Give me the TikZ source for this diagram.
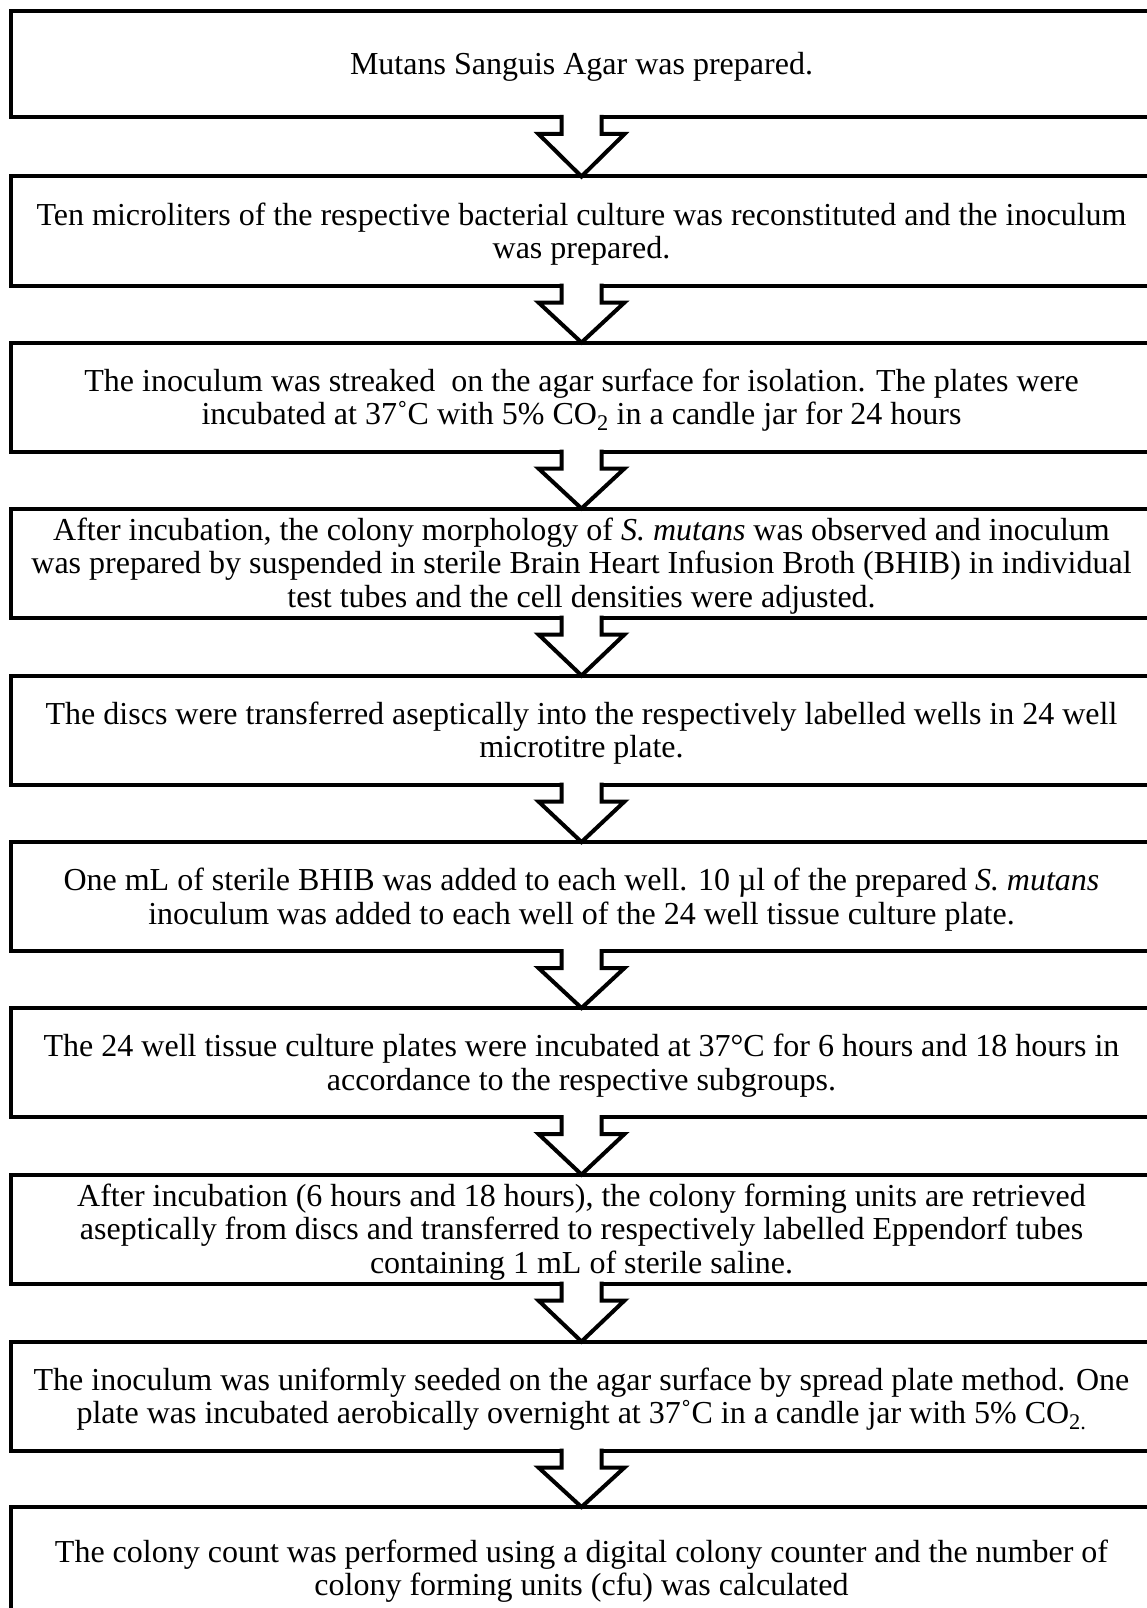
\documentclass[tikz,border=0pt]{standalone}
\usepackage{fontspec}
\setmainfont{Liberation Serif}
\usetikzlibrary{calc}
\newcommand{\tp}{\rule{0pt}{28.5pt}}
\begin{document}
\begin{tikzpicture}[x=1pt,y=-1pt,
  box/.style={draw, line width=4pt, rectangle, minimum width=1141pt,
    minimum height=109pt, inner sep=0pt, outer sep=0pt, align=center,
    font=\fontsize{32}{33.6}\selectfont},
  arr/.style={line width=4pt, line join=miter}]
\useasboundingbox (0,0) rectangle (1147,1608);
\clip (0,0) rectangle (1147,1608);
\node[box, minimum height=106pt] (b1) at (581.5,64) {\tp Mutans Sanguis Agar was prepared.};
\node[box] (b2) at (581.5,231) {\tp Ten microliters of the respective bacterial culture was reconstituted and the inoculum\\was prepared.};
\node[box] (b3) at (581.5,397) {\tp The inoculum was streaked\ \ on the agar surface for isolation. The plates were\\incubated at 37˚C with 5\% CO\textsubscript{2} in a candle jar for 24 hours};
\node[box] (b4) at (581.5,563) {\tp After incubation, the colony morphology of \textit{S. mutans} was observed and inoculum\\was prepared by suspended in sterile Brain Heart Infusion Broth (BHIB) in individual\\test tubes and the cell densities were adjusted.};
\node[box] (b5) at (581.5,730) {\tp The discs were transferred aseptically into the respectively labelled wells in 24 well\\microtitre plate.};
\node[box] (b6) at (581.5,896.5) {\tp One mL of sterile BHIB was added to each well. 10 µl of the prepared \textit{S. mutans}\\inoculum was added to each well of the 24 well tissue culture plate.};
\node[box] (b7) at (581.5,1062.5) {\tp The 24 well tissue culture plates were incubated at 37°C for 6 hours and 18 hours in\\accordance to the respective subgroups.};
\node[box] (b8) at (581.5,1229) {\tp After incubation (6 hours and 18 hours), the colony forming units are retrieved\\aseptically from discs and transferred to respectively labelled Eppendorf tubes\\containing 1 mL of sterile saline.};
\node[box] (b9) at (581.5,1396) {\tp The inoculum was uniformly seeded on the agar surface by spread plate method. One\\plate was incubated aerobically overnight at 37˚C in a candle jar with 5\% CO\textsubscript{2.}};
\node[box, minimum height=122pt] (b10) at (581.5,1568) {\tp The colony count was performed using a digital colony counter and the number of\\colony forming units (cfu) was calculated};
\foreach \a/\b in {b1/b2,b2/b3,b3/b4,b4/b5,b5/b6,b6/b7,b7/b8,b8/b9,b9/b10} {
  \fill[white] ($(\a.south)+(-20,-2.5)$) -- ($(\a.south)+(-20,17)$) -- ($(\a.south)+(-43,17)$)
    -- (\b.north) -- ($(\a.south)+(43,17)$) -- ($(\a.south)+(20,17)$) -- ($(\a.south)+(20,-2.5)$) -- cycle;
  \draw[arr] ($(\a.south)+(-20,-2)$) -- ($(\a.south)+(-20,17)$) -- ($(\a.south)+(-43,17)$)
    -- (\b.north) -- ($(\a.south)+(43,17)$) -- ($(\a.south)+(20,17)$) -- ($(\a.south)+(20,-2)$);
}
\end{tikzpicture}
\end{document}
